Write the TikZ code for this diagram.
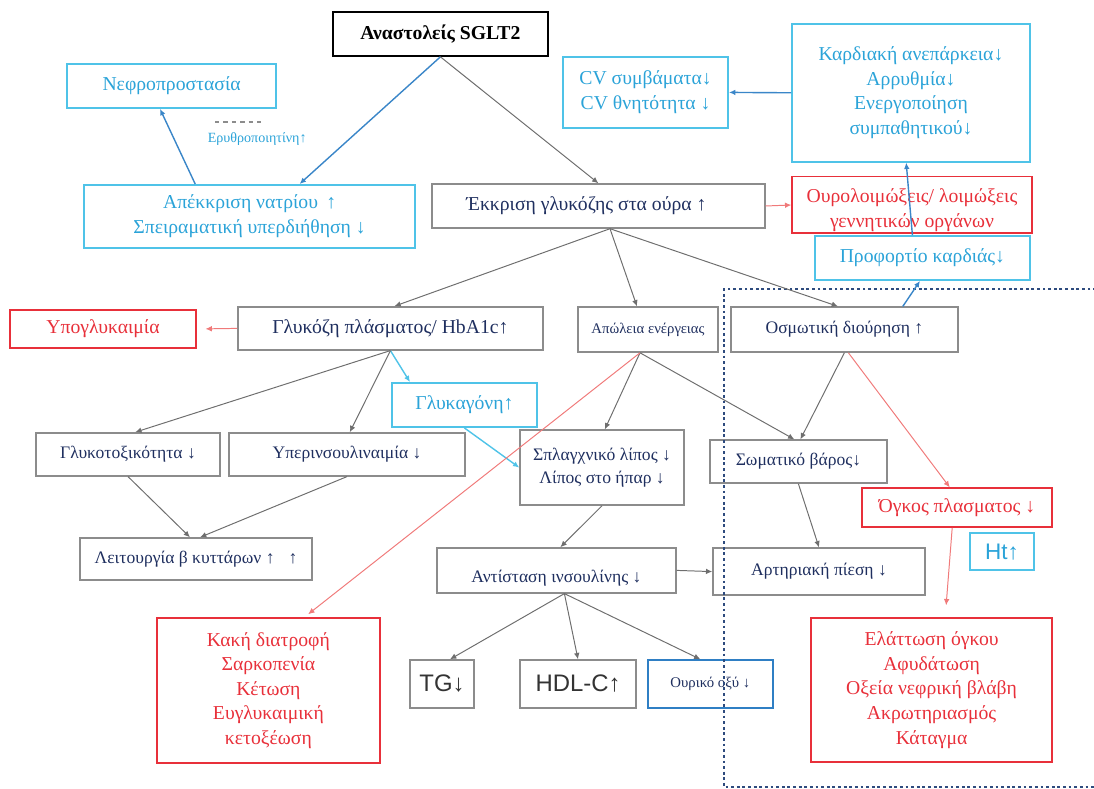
\documentclass[tikz,border=0pt]{standalone}
\usepackage{fontspec}
\setmainfont{Liberation Serif}
\newfontfamily\sansgr{Liberation Sans}
\usepackage{xcolor}
\usetikzlibrary{arrows.meta}
\definecolor{navy}{HTML}{1F2F5F}
\definecolor{boxgrey}{HTML}{8C8C8C}
\definecolor{arrowgrey}{HTML}{6E6E6E}
\definecolor{cyanline}{HTML}{4FC3E8}
\definecolor{cyantext}{HTML}{2BA3D8}
\definecolor{steelblue}{HTML}{3A86C8}
\definecolor{redline}{HTML}{E8303A}
\definecolor{redlink}{HTML}{F07A7A}
\definecolor{uricblue}{HTML}{2F7FC4}
\definecolor{dotnavy}{HTML}{2E4B7E}
\newcommand{\bigtext}{\fontsize{14}{17.5}\selectfont}
\newcommand{\midtext}{\fontsize{12.5}{16.5}\selectfont}
\newcommand{\smalltext}{\fontsize{10.5}{13}\selectfont}
\tikzset{
  greybox/.style={draw=boxgrey, line width=1pt, text=navy, align=center, inner sep=1pt},
  cyanbox/.style={draw=cyanline, line width=1.3pt, text=cyantext, align=center, inner sep=1pt, font=\bigtext},
  redbox/.style={draw=redline, line width=1pt, text=redline, align=center, inner sep=1pt, font=\bigtext},
  link/.style={->, draw=arrowgrey, line width=0.7pt},
  bluelink/.style={->, draw=steelblue, line width=1pt},
  cyanlink/.style={->, draw=cyanline, line width=1pt},
  redarrow/.style={->, draw=redlink, line width=0.7pt}
}

\begin{document}
\begin{tikzpicture}[>={Latex[length=4.5pt,width=4pt]}]
\useasboundingbox (0,0) rectangle (27.35,-19.725);
\node[draw=black, line width=1.2pt, minimum width=5.375cm, minimum height=1.1cm, font=\bigtext\bfseries] at (11.01, -0.85) (sglt) {Αναστολείς SGLT2};
\node[cyanbox, minimum width=5.225cm, minimum height=1.1cm] at (4.29, -2.15) (nephro) {Νεφροπροστασία};
\node[text=cyantext, font=\fontsize{10}{11}\selectfont] at (6.43, -3.48) (epo) {Ερυθροποιητίνη↑};
\node[cyanbox, minimum width=8.275cm, minimum height=1.575cm] at (6.24, -5.41) (natrium) {Απέκκριση νατρίου \,↑\\Σπειραματική υπερδιήθηση ↓};
\node[greybox, font=\bigtext, minimum width=8.325cm, minimum height=1.1cm] at (14.96, -5.15) (ekkrisi) {Έκκριση γλυκόζης στα ούρα ↑\hspace{0.6cm}};
\node[cyanbox, minimum width=4.125cm, minimum height=1.775cm] at (16.14, -2.31) (cv) {CV συμβάματα↓\\CV θνητότητα ↓};
\node[cyanbox, minimum width=5.95cm, minimum height=3.45cm] at (22.775, -2.32) (cardio) {Καρδιακή ανεπάρκεια↓\\Αρρυθμία↓\\Ενεργοποίηση\\συμπαθητικού↓};
\node[redbox, minimum width=6.0cm, minimum height=1.35cm] at (22.8, -5.125) (uti) {\rule{0pt}{0.62cm}Ουρολοιμώξεις/ λοιμώξεις\\γεννητικών οργάνων};
\node[cyanbox, minimum width=5.375cm, minimum height=1.1cm] at (23.06, -6.45) (preload) {Προφορτίο καρδιάς↓};
\node[redbox, minimum width=4.65cm, minimum height=0.95cm] at (2.575, -8.225) (hypo) {Υπογλυκαιμία};
\node[greybox, font=\bigtext, minimum width=7.625cm, minimum height=1.075cm] at (9.76, -8.21) (pglu) {Γλυκόζη πλάσματος/ HbA1c↑};
\node[greybox, font=\smalltext, minimum width=3.5cm, minimum height=1.125cm] at (16.2, -8.24) (energy) {Απώλεια ενέργειας};
\node[greybox, font=\midtext, minimum width=5.675cm, minimum height=1.125cm] at (21.11, -8.24) (osmo) {Οσμωτική διούρηση ↑};
\node[cyanbox, minimum width=3.625cm, minimum height=1.1cm] at (11.61, -10.125) (glucagon) {Γλυκαγόνη↑};
\node[greybox, font=\midtext, minimum width=4.6cm, minimum height=1.075cm] at (3.2, -11.36) (glucotox) {Γλυκοτοξικότητα ↓};
\node[greybox, font=\midtext, minimum width=5.9cm, minimum height=1.075cm] at (8.675, -11.36) (hyperins) {Υπερινσουλιναιμία ↓};
\node[greybox, font=\midtext, minimum width=4.1cm, minimum height=1.875cm] at (15.05, -11.69) (visceral) {Σπλαγχνικό λίπος ↓\\Λίπος στο ήπαρ ↓};
\node[greybox, font=\midtext, minimum width=4.425cm, minimum height=1.075cm] at (19.96, -11.54) (weight) {Σωματικό βάρος↓};
\node[greybox, font=\midtext, minimum width=5.8cm, minimum height=1.05cm] at (4.9, -13.975) (beta) {Λειτουργία β κυττάρων ↑\hspace{0.8em}↑};
\node[redbox, minimum width=4.75cm, minimum height=0.975cm] at (23.925, -12.69) (volume) {Όγκος πλασματος ↓};
\node[draw=cyanline, line width=1.6pt, text=cyantext, font=\sansgr\fontsize{16}{18}\selectfont, minimum width=1.6cm, minimum height=0.925cm] at (25.05, -13.79) (ht) {Ht↑};
\node[greybox, font=\midtext, minimum width=5.975cm, minimum height=1.125cm] at (13.91, -14.26) (insres) {\rule{0pt}{0.72cm}Αντίσταση ινσουλίνης ↓};
\node[greybox, font=\midtext, minimum width=5.3cm, minimum height=1.175cm] at (20.475, -14.29) (bp) {Αρτηριακή πίεση ↓};
\node[redbox, minimum width=5.575cm, minimum height=3.625cm] at (6.71, -17.26) (malnut) {Κακή διατροφή\\Σαρκοπενία\\Κέτωση\\Ευγλυκαιμική\\κετοξέωση};
\node[greybox, text=black!80, font=\sansgr\fontsize{17}{19}\selectfont, minimum width=1.6cm, minimum height=1.2cm] at (11.05, -17.1) (tg) {TG↓};
\node[greybox, text=black!80, font=\sansgr\fontsize{17}{19}\selectfont, minimum width=2.9cm, minimum height=1.2cm] at (14.45, -17.1) (hdl) {HDL-C↑};
\node[greybox, draw=uricblue, font=\smalltext, minimum width=3.125cm, minimum height=1.2cm] at (17.76, -17.1) (uric) {Ουρικό οξύ ↓};
\node[redbox, minimum width=6.025cm, minimum height=3.6cm] at (23.29, -17.25) (volred) {Ελάττωση όγκου\\Αφυδάτωση\\Οξεία νεφρική βλάβη\\Ακρωτηριασμός\\Κάταγμα};
\coordinate (dashl) at (5.375, -3.05);
\coordinate (dashr) at (6.625, -3.05);
\draw[boxgrey, dashed, line width=0.8pt] (dashl) -- (dashr);
\draw[dotnavy, line width=2pt, dash pattern=on 2pt off 2pt] (27.4, -7.225) -- (18.1, -7.225) -- (18.1, -19.675) -- (27.4, -19.675);
\draw[bluelink] (sglt.south) -- ([xshift=1.25cm]natrium.north);
\draw[bluelink] ([xshift=-1.36cm]natrium.north) -- ([xshift=-0.29cm]nephro.south);
\draw[link] (sglt.south) -- (ekkrisi.north);
\draw[redarrow] (ekkrisi.east) -- (uti.west);
\draw[bluelink] (cardio.west) -- (cv.east);
\draw[bluelink] ([xshift=-0.25cm]preload.north) -- ([xshift=-0.12cm]cardio.south);
\draw[bluelink] ([xshift=1.46cm]osmo.north) -- ([xshift=-0.06cm]preload.south);
\draw[link] ([xshift=0.29cm]ekkrisi.south) -- ([xshift=0.1cm]pglu.north);
\draw[link] ([xshift=0.29cm]ekkrisi.south) -- ([xshift=-0.275cm]energy.north);
\draw[link] ([xshift=0.29cm]ekkrisi.south) -- ([xshift=-0.16cm]osmo.north);
\draw[redarrow, shorten >=0.22cm] (pglu.west) -- (hypo.east);
\draw[cyanlink] (pglu.south) -- ([xshift=-1.36cm]glucagon.north);
\draw[cyanlink] (glucagon.south) -- (visceral.west);
\draw[link] (pglu.south) -- ([xshift=0.18cm]glucotox.north);
\draw[link] (pglu.south) -- ([xshift=0.07cm]hyperins.north);
\draw[link] ([xshift=-0.2cm]energy.south) -- ([xshift=0.07cm]visceral.north);
\draw[link] ([xshift=-0.2cm]energy.south) -- ([xshift=-0.1cm]weight.north);
\draw[link] (osmo.south) -- ([xshift=0.05cm]weight.north);
\draw[redarrow, shorten >=0.12cm] ([xshift=-0.2cm]energy.south) -- ([xshift=0.9cm]malnut.north);
\draw[redarrow] ([xshift=0.1cm]osmo.south) -- ([xshift=-0.18cm]volume.north);
\draw[link] (glucotox.south) -- ([xshift=-0.15cm]beta.north);
\draw[link] (hyperins.south) -- ([xshift=0.1cm]beta.north);
\draw[link] (visceral.south) -- ([xshift=0.1cm]insres.north);
\draw[link] (insres.east) -- (bp.west);
\draw[link] (weight.south) -- (bp.north);
\draw[redarrow, shorten >=0.3cm] ([xshift=-0.12cm]volume.south) -- ([xshift=0.34cm]volred.north);
\draw[link] ([xshift=0.2cm]insres.south) -- ([xshift=0.2cm]tg.north);
\draw[link] ([xshift=0.2cm]insres.south) -- (hdl.north);
\draw[link] ([xshift=0.2cm]insres.south) -- ([xshift=-0.25cm]uric.north);
\end{tikzpicture}
\end{document}
